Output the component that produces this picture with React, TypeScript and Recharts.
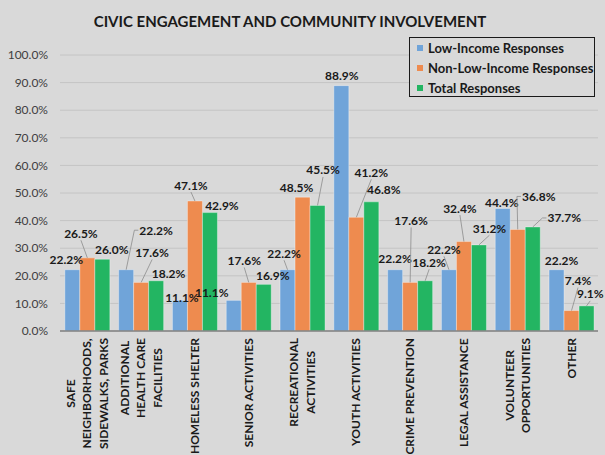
import React from 'react';
import { BarChart, Bar, XAxis, YAxis, CartesianGrid, LabelList, Legend } from 'recharts';

const categoryLines: string[][] = [
  ['SAFE', 'NEIGHBORHOODS,', 'SIDEWALKS, PARKS'],
  ['ADDITIONAL', 'HEALTH CARE', 'FACILITIES'],
  ['HOMELESS SHELTER'],
  ['SENIOR ACTIVITIES'],
  ['RECREATIONAL', 'ACTIVITIES'],
  ['YOUTH ACTIVITIES'],
  ['CRIME PREVENTION'],
  ['LEGAL ASSISTANCE'],
  ['VOLUNTEER', 'OPPORTUNITIES'],
  ['OTHER'],
];
const categories = categoryLines.map((l) => l.join(' '));

const lowIncome = [22.2, 22.2, 11.1, 11.1, 22.2, 88.9, 22.2, 22.2, 44.4, 22.2];
const nonLowIncome = [26.5, 17.6, 47.1, 17.6, 48.5, 41.2, 17.6, 32.4, 36.8, 7.4];
const total = [26.0, 18.2, 42.9, 16.9, 45.5, 46.8, 18.2, 31.2, 37.7, 9.1];

const seriesNames = ['Low-Income Responses', 'Non-Low-Income Responses', 'Total Responses'];
const yTicks = [0, 10, 20, 30, 40, 50, 60, 70, 80, 90, 100];
const title = 'CIVIC ENGAGEMENT AND COMMUNITY INVOLVEMENT';

// label placement (style): offset of label centre from bar top centre, and leader-line flags
const lowOffsets = [[-6, -10.5], [30, -39.5], [2, -3], [-22, -8], [-3.5, -16.5], [0.5, -10], [0, -11.5], [-5, -20.5], [-1, -6.4], [5, -9.5]];
const nonOffsets = [[-6.4, -24.6], [11, -30], [-4, -16], [-4.5, -22], [-6, -10], [15, -45], [1, -62], [-4, -33.5], [21, -33], [6.5, -30]];
const totOffsets = [[9.4, -10], [12.5, -7.5], [12, -7.5], [9, -9], [5.5, -35.5], [12.5, -12], [4, -18.5], [10.5, -16.7], [31.5, -9], [3.7, -12]];
const lowLeaders = [0, 1, 0, 0, 1, 0, 0, 1, 0, 0];
const nonLeaders = [1, 1, 1, 1, 0, 1, 1, 1, 1, 1];
const totLeaders = [0, 0, 0, 0, 1, 0, 1, 1, 1, 1];

const COLORS = ['#70a4d9', '#ee8b4f', '#23b562'];
const FONT = 'Lato, "Open Sans", sans-serif';

const data = categories.map((c, i) => ({
  category: c,
  low: lowIncome[i],
  non: nonLowIncome[i],
  tot: total[i],
}));

let ctx: CanvasRenderingContext2D | null = null;
function measure(text: string, font: string): number {
  if (!ctx) ctx = document.createElement('canvas').getContext('2d');
  if (!ctx) return text.length * 7;
  ctx.font = font;
  return ctx.measureText(text).width;
}

const makeLabel = (offsets: number[][], leaders: number[]) => (props: any) => {
  const { x, y, width, value, index } = props;
  const bx = Number(x) + Number(width) / 2;
  const by = Number(y);
  const lx = bx + offsets[index][0];
  const ly = by + offsets[index][1];
  const text = `${Number(value).toFixed(1)}%`;
  const hw = measure(text, `bold 12px ${FONT}`) / 2;
  const hh = 7;
  let line: React.ReactNode = null;
  if (leaders[index]) {
    let pts: string;
    if (bx < lx - hw) {
      pts = `${bx},${by} ${lx - hw - 5},${ly} ${lx - hw - 1},${ly}`;
    } else if (bx > lx + hw) {
      pts = `${bx},${by} ${lx + hw + 5},${ly} ${lx + hw + 1},${ly}`;
    } else {
      pts = `${bx},${by} ${lx},${ly + hh}`;
    }
    line = <polyline points={pts} fill="none" stroke="#8c8c8c" strokeWidth={0.8} />;
  }
  return (
    <g>
      {line}
      <text x={lx} y={ly} textAnchor="middle" dominantBaseline="central" fontFamily={FONT} fontWeight="bold" fontSize={12} fill="#1a1a1a">
        {text}
      </text>
    </g>
  );
};

const XTick = (props: any) => {
  const { x, y, payload } = props;
  const idx = categories.indexOf(payload.value);
  const lines = categoryLines[idx] || [String(payload.value)];
  const font = `bold 12px ${FONT}`;
  const maxW = Math.max(...lines.map((l) => measure(l, font)));
  const n = lines.length;
  const spacing = 16.5;
  return (
    <g transform={`translate(${x},${Number(y) + 7}) rotate(-90)`}>
      {lines.map((l, i) => (
        <text key={i} x={-maxW / 2} y={(i - (n - 1) / 2) * spacing} textAnchor="middle" dominantBaseline="central" fontFamily={FONT} fontWeight="bold" fontSize={12} fill="#1a1a1a">
          {l}
        </text>
      ))}
    </g>
  );
};

const LegendContent = () => (
  <div style={{ border: '1px solid #1a1a1a', boxSizing: 'border-box', width: 186, height: 60, padding: '0 0 0 7px', background: '#d9d9d9' }}>
    {seriesNames.map((n, i) => (
      <div key={n} style={{ display: 'flex', alignItems: 'center', height: 20, fontFamily: FONT, fontWeight: 'bold', fontSize: 13, color: '#1a1a1a', whiteSpace: 'nowrap' }}>
        <span style={{ display: 'inline-block', width: 6, height: 6, background: COLORS[i], marginRight: 5 }} />
        {n}
      </div>
    ))}
  </div>
);

export default function App() {
  return (
    <div style={{ position: 'absolute', left: 0, top: 0, width: 605, height: 455, background: '#d9d9d9' }}>
      <div style={{ position: 'absolute', left: 0, top: 12, width: 580, textAlign: 'center', fontFamily: FONT, fontWeight: 'bold', fontSize: 15, color: '#1a1a1a' }}>
        {title}
      </div>
      <BarChart width={605} height={455} data={data} margin={{ top: 55, right: 7, left: 0, bottom: 0 }} barCategoryGap="9%" barGap={0}>
        <CartesianGrid vertical={false} stroke="#c4c4c4" />
        <XAxis dataKey="category" interval={0} height={124} tickLine={false} tickSize={0} tickMargin={0} axisLine={{ stroke: '#808080', strokeWidth: 1.5 }} tick={<XTick />} />
        <YAxis domain={[0, 100]} ticks={yTicks} width={60} axisLine={false} tickLine={false} tickSize={0} tickMargin={12}
          tickFormatter={(v: number) => `${v.toFixed(1)}%`} tick={{ fontFamily: FONT, fontSize: 12, fill: '#404040' }} />
        <Legend layout="vertical" align="center" verticalAlign="middle" content={<LegendContent />}
          wrapperStyle={{ position: 'absolute', left: 409, top: 37, width: 186, height: 60 }} />
        <Bar dataKey="low" name={seriesNames[0]} fill={COLORS[0]} stroke="#ffffff" strokeOpacity={0.35} isAnimationActive={false}>
          <LabelList dataKey="low" content={makeLabel(lowOffsets, lowLeaders)} />
        </Bar>
        <Bar dataKey="non" name={seriesNames[1]} fill={COLORS[1]} stroke="#ffffff" strokeOpacity={0.35} isAnimationActive={false}>
          <LabelList dataKey="non" content={makeLabel(nonOffsets, nonLeaders)} />
        </Bar>
        <Bar dataKey="tot" name={seriesNames[2]} fill={COLORS[2]} stroke="#ffffff" strokeOpacity={0.35} isAnimationActive={false}>
          <LabelList dataKey="tot" content={makeLabel(totOffsets, totLeaders)} />
        </Bar>
      </BarChart>
    </div>
  );
}
